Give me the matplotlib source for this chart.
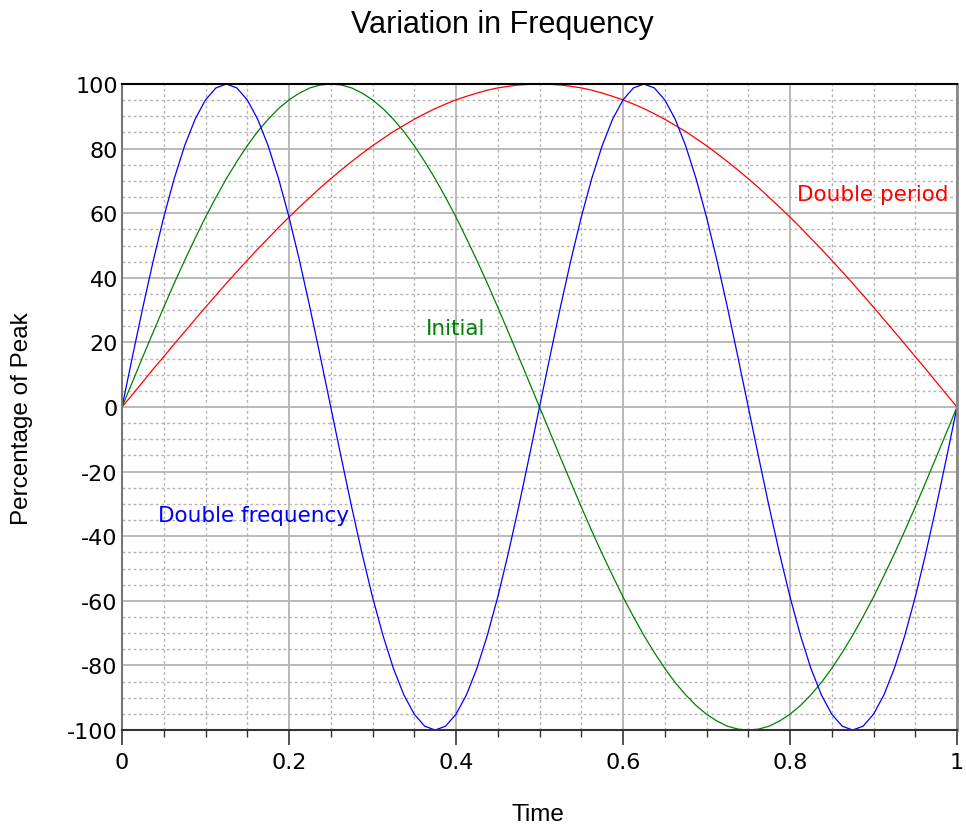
import matplotlib
matplotlib.use("Agg")
import matplotlib.pyplot as plt
from matplotlib.ticker import MultipleLocator

plt.rcParams['axes.unicode_minus'] = False

# sample times, 0 .. 1 every 0.0125
time_pts = [0.0, 0.0125, 0.025, 0.0375, 0.05, 0.0625, 0.075, 0.0875, 0.1, 0.1125,
            0.125, 0.1375, 0.15, 0.1625, 0.175, 0.1875, 0.2, 0.2125, 0.225, 0.2375,
            0.25, 0.2625, 0.275, 0.2875, 0.3, 0.3125, 0.325, 0.3375, 0.35, 0.3625,
            0.375, 0.3875, 0.4, 0.4125, 0.425, 0.4375, 0.45, 0.4625, 0.475, 0.4875,
            0.5, 0.5125, 0.525, 0.5375, 0.55, 0.5625, 0.575, 0.5875, 0.6, 0.6125,
            0.625, 0.6375, 0.65, 0.6625, 0.675, 0.6875, 0.7, 0.7125, 0.725, 0.7375,
            0.75, 0.7625, 0.775, 0.7875, 0.8, 0.8125, 0.825, 0.8375, 0.85, 0.8625,
            0.875, 0.8875, 0.9, 0.9125, 0.925, 0.9375, 0.95, 0.9625, 0.975, 0.9875,
            1.0]

# green - initial wave
initial = [0, 7.8, 15.6, 23.3, 30.9, 38.3, 45.4, 52.2, 58.8, 64.9,
           70.7, 76.0, 80.9, 85.3, 89.1, 92.4, 95.1, 97.2, 98.8, 99.7,
           100, 99.7, 98.8, 97.2, 95.1, 92.4, 89.1, 85.3, 80.9, 76.0,
           70.7, 64.9, 58.8, 52.2, 45.4, 38.3, 30.9, 23.3, 15.6, 7.8,
           0, -7.8, -15.6, -23.3, -30.9, -38.3, -45.4, -52.2, -58.8, -64.9,
           -70.7, -76.0, -80.9, -85.3, -89.1, -92.4, -95.1, -97.2, -98.8, -99.7,
           -100, -99.7, -98.8, -97.2, -95.1, -92.4, -89.1, -85.3, -80.9, -76.0,
           -70.7, -64.9, -58.8, -52.2, -45.4, -38.3, -30.9, -23.3, -15.6, -7.8,
           0]

# blue - double frequency
double_freq = [0, 15.6, 30.9, 45.4, 58.8, 70.7, 80.9, 89.1, 95.1, 98.8,
               100, 98.8, 95.1, 89.1, 80.9, 70.7, 58.8, 45.4, 30.9, 15.6,
               0, -15.6, -30.9, -45.4, -58.8, -70.7, -80.9, -89.1, -95.1, -98.8,
               -100, -98.8, -95.1, -89.1, -80.9, -70.7, -58.8, -45.4, -30.9, -15.6,
               0, 15.6, 30.9, 45.4, 58.8, 70.7, 80.9, 89.1, 95.1, 98.8,
               100, 98.8, 95.1, 89.1, 80.9, 70.7, 58.8, 45.4, 30.9, 15.6,
               0, -15.6, -30.9, -45.4, -58.8, -70.7, -80.9, -89.1, -95.1, -98.8,
               -100, -98.8, -95.1, -89.1, -80.9, -70.7, -58.8, -45.4, -30.9, -15.6,
               0]

# red - double period
double_period = [0, 3.9, 7.8, 11.8, 15.6, 19.5, 23.3, 27.1, 30.9, 34.6,
                 38.3, 41.9, 45.4, 48.9, 52.2, 55.6, 58.8, 61.9, 64.9, 67.9,
                 70.7, 73.4, 76.0, 78.5, 80.9, 83.1, 85.3, 87.2, 89.1, 90.8,
                 92.4, 93.8, 95.1, 96.2, 97.2, 98.1, 98.8, 99.3, 99.7, 99.9,
                 100, 99.9, 99.7, 99.3, 98.8, 98.1, 97.2, 96.2, 95.1, 93.8,
                 92.4, 90.8, 89.1, 87.2, 85.3, 83.1, 80.9, 78.5, 76.0, 73.4,
                 70.7, 67.9, 64.9, 61.9, 58.8, 55.6, 52.2, 48.9, 45.4, 41.9,
                 38.3, 34.6, 30.9, 27.1, 23.3, 19.5, 15.6, 11.8, 7.8, 3.9,
                 0]

labels = ["Double period", "Initial", "Double frequency"]
label_pos = [(0.808, 66), (0.364, 24.5), (0.043, -33.5)]
colors = ["#ff0000", "#008000", "#0000ff"]

fig = plt.figure(figsize=(9.66, 8.28), dpi=100)
ax = fig.add_axes([0.1263, 0.1171, 0.8644, 0.7802])

ax.plot(time_pts, double_period, color=colors[0], lw=0.9)
ax.plot(time_pts, initial, color=colors[1], lw=0.9)
ax.plot(time_pts, double_freq, color=colors[2], lw=0.9)

for lab, (tx, ty), c in zip(labels, label_pos, colors):
    ax.text(tx, ty, lab, color=c, fontsize=15.5, va='center', ha='left',
            family='DejaVu Sans')

ax.set_xlim(0, 1)
ax.set_ylim(-100, 100)
ax.xaxis.set_major_locator(MultipleLocator(0.2))
ax.xaxis.set_minor_locator(MultipleLocator(0.05))
ax.yaxis.set_major_locator(MultipleLocator(20))
ax.yaxis.set_minor_locator(MultipleLocator(5))
ax.set_xticks([0, 0.2, 0.4, 0.6, 0.8, 1.0], ["0", "0.2", "0.4", "0.6", "0.8", "1"])
ax.set_yticks(range(-100, 101, 20), [str(v) for v in range(-100, 101, 20)])

ax.grid(which='major', color='#b4b4b4', lw=1.3, ls='-')
ax.grid(which='minor', color='#b4b4b4', lw=1.0, ls=(0, (2, 2)))
ax.set_axisbelow(True)

ax.tick_params(axis='x', which='major', length=11, width=1.2, color='#333333',
               labelsize=16, pad=5)
ax.tick_params(axis='x', which='minor', length=5, width=1.0, color='#333333')
ax.tick_params(axis='y', which='both', length=0, labelsize=16, pad=3)

ax.spines['top'].set_color('black')
ax.spines['top'].set_linewidth(1.5)
ax.spines['bottom'].set_color('#333333')
ax.spines['bottom'].set_linewidth(1.5)
ax.spines['left'].set_color('#777777')
ax.spines['left'].set_linewidth(1.5)
ax.spines['right'].set_color('#888888')
ax.spines['right'].set_linewidth(2)

fig.text(0.52, 0.97, "Variation in Frequency", ha='center', va='center',
         fontsize=22, family='Liberation Sans')
fig.text(0.557, 0.016, "Time", ha='center', va='center',
         fontsize=17.5, family='Liberation Sans')
fig.text(0.023, 0.495, "Percentage of Peak", ha='center', va='center',
         rotation=90, fontsize=17.5, family='Liberation Sans')

fig.savefig("out.png", dpi=100)
